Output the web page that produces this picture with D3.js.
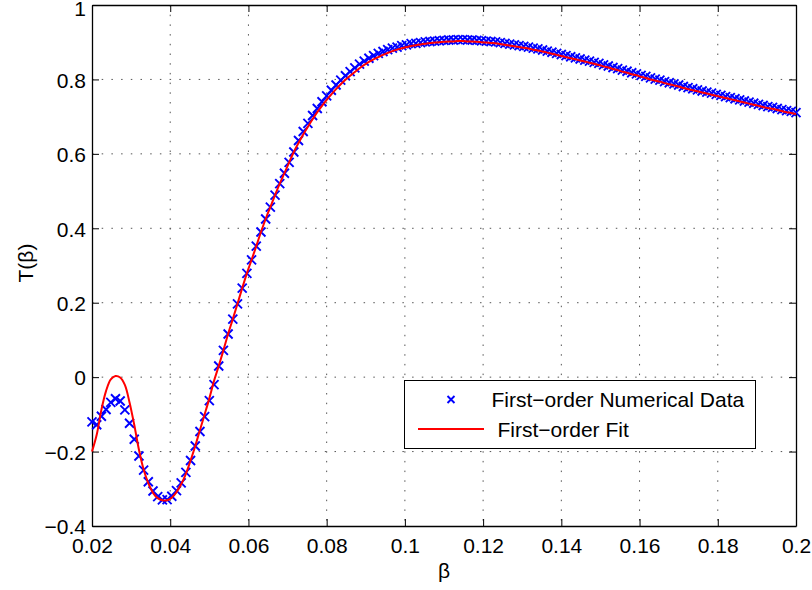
<!DOCTYPE html>
<html>
<head>
<meta charset="utf-8">
<script src="https://d3js.org/d3.v7.min.js"></script>
<style>
body { margin: 0; background: #fff; }
text { font-family: "Liberation Sans", Arial, Helvetica, sans-serif; fill: #000; }
</style>
</head>
<body>
<div id="chart"></div>
<script>
// sample grid (beta)
var betaVals = [0.0200,0.0212,0.0224,0.0236,0.0248,0.0260,0.0272,0.0284,0.0296,0.0308,
  0.0320,0.0332,0.0344,0.0356,0.0368,0.0380,0.0392,0.0404,0.0416,0.0428,
  0.0440,0.0452,0.0464,0.0476,0.0488,0.0500,0.0512,0.0524,0.0536,0.0548,
  0.0560,0.0572,0.0584,0.0596,0.0608,0.0620,0.0632,0.0644,0.0656,0.0668,
  0.0680,0.0692,0.0704,0.0716,0.0728,0.0740,0.0752,0.0764,0.0776,0.0788,
  0.0800,0.0812,0.0824,0.0836,0.0848,0.0860,0.0872,0.0884,0.0896,0.0908,
  0.0920,0.0932,0.0944,0.0956,0.0968,0.0980,0.0992,0.1004,0.1016,0.1028,
  0.1040,0.1052,0.1064,0.1076,0.1088,0.1100,0.1112,0.1124,0.1136,0.1148,
  0.1160,0.1172,0.1184,0.1196,0.1208,0.1220,0.1232,0.1244,0.1256,0.1268,
  0.1280,0.1292,0.1304,0.1316,0.1328,0.1340,0.1352,0.1364,0.1376,0.1388,
  0.1400,0.1412,0.1424,0.1436,0.1448,0.1460,0.1472,0.1484,0.1496,0.1508,
  0.1520,0.1532,0.1544,0.1556,0.1568,0.1580,0.1592,0.1604,0.1616,0.1628,
  0.1640,0.1652,0.1664,0.1676,0.1688,0.1700,0.1712,0.1724,0.1736,0.1748,
  0.1760,0.1772,0.1784,0.1796,0.1808,0.1820,0.1832,0.1844,0.1856,0.1868,
  0.1880,0.1892,0.1904,0.1916,0.1928,0.1940,0.1952,0.1964,0.1976,0.1988,
  0.2000];

// first-order numerical data (blue crosses)
var numT = [-0.120,-0.128,-0.105,-0.087,-0.068,-0.058,-0.064,-0.088,-0.124,-0.167,
  -0.212,-0.250,-0.281,-0.306,-0.321,-0.330,-0.329,-0.320,-0.305,-0.284,
  -0.256,-0.224,-0.185,-0.146,-0.106,-0.063,-0.020,0.030,0.072,0.116,
  0.156,0.197,0.239,0.279,0.315,0.352,0.390,0.425,0.457,0.489,
  0.520,0.548,0.577,0.605,0.636,0.660,0.682,0.703,0.722,0.740,
  0.756,0.771,0.785,0.798,0.810,0.821,0.831,0.841,0.849,0.857,
  0.864,0.870,0.875,0.880,0.884,0.887,0.891,0.893,0.896,0.897,
  0.899,0.901,0.902,0.903,0.904,0.905,0.906,0.906,0.907,0.907,
  0.906,0.906,0.905,0.904,0.903,0.902,0.901,0.899,0.897,0.895,
  0.893,0.891,0.889,0.887,0.884,0.882,0.879,0.876,0.873,0.870,
  0.867,0.864,0.861,0.858,0.855,0.852,0.849,0.846,0.843,0.839,
  0.836,0.832,0.829,0.825,0.822,0.818,0.815,0.811,0.808,0.804,
  0.801,0.798,0.794,0.791,0.788,0.785,0.781,0.778,0.775,0.772,
  0.769,0.766,0.763,0.760,0.757,0.754,0.751,0.748,0.745,0.742,
  0.739,0.736,0.733,0.730,0.727,0.725,0.722,0.719,0.716,0.714,
  0.711];

// first-order fit (red line)
var fitT = [-0.200,-0.155,-0.088,-0.037,-0.006,0.003,-0.001,-0.021,-0.068,-0.128,
  -0.195,-0.248,-0.285,-0.311,-0.325,-0.331,-0.331,-0.324,-0.309,-0.288,
  -0.260,-0.224,-0.185,-0.142,-0.100,-0.057,-0.010,0.030,0.072,0.116,
  0.156,0.197,0.239,0.279,0.315,0.352,0.390,0.425,0.457,0.489,
  0.520,0.548,0.577,0.605,0.629,0.652,0.673,0.693,0.712,0.729,
  0.745,0.760,0.774,0.787,0.799,0.810,0.820,0.830,0.839,0.847,
  0.854,0.860,0.866,0.871,0.876,0.880,0.884,0.887,0.890,0.892,
  0.894,0.896,0.898,0.899,0.900,0.901,0.902,0.902,0.903,0.903,
  0.902,0.902,0.901,0.900,0.899,0.898,0.897,0.895,0.893,0.891,
  0.889,0.887,0.885,0.883,0.880,0.878,0.875,0.872,0.869,0.866,
  0.863,0.860,0.857,0.854,0.851,0.848,0.845,0.842,0.839,0.835,
  0.832,0.828,0.825,0.821,0.818,0.814,0.811,0.807,0.804,0.800,
  0.797,0.794,0.790,0.787,0.784,0.781,0.777,0.774,0.771,0.768,
  0.765,0.762,0.759,0.756,0.753,0.750,0.747,0.744,0.741,0.738,
  0.735,0.732,0.729,0.726,0.723,0.721,0.718,0.715,0.712,0.710,
  0.707];

var xTicks = [0.02,0.04,0.06,0.08,0.1,0.12,0.14,0.16,0.18,0.2];
var xTickLabels = ["0.02","0.04","0.06","0.08","0.1","0.12","0.14","0.16","0.18","0.2"];
var yTicks = [-0.4,-0.2,0,0.2,0.4,0.6,0.8,1];
var yTickLabels = ["\u22120.4","\u22120.2","0","0.2","0.4","0.6","0.8","1"];
var legendLabels = ["First\u2212order Numerical Data", "First\u2212order Fit"];

var W = 812, H = 590;
var margin = {top: 5, right: 16, bottom: 64, left: 92};
var plotW = W - margin.left - margin.right,
    plotH = H - margin.top - margin.bottom;
var fs = 21;

var svg = d3.select('#chart').append('svg')
    .attr('width', W).attr('height', H);
var plt = svg.append('g')
    .attr('transform', 'translate(' + [margin.left, margin.top] + ')');

var x = d3.scaleLinear().domain([0.02, 0.2]).range([0, plotW]);
var y = d3.scaleLinear().domain([-0.4, 1]).range([plotH, 0]);

// dotted grid
plt.selectAll('.vgrid').data(xTicks.slice(1, -1))
  .enter().append('line').attr('class', 'vgrid')
    .attr('x1', function(d){ return x(d); }).attr('x2', function(d){ return x(d); })
    .attr('y1', 0).attr('y2', plotH)
    .attr('stroke', '#555').attr('stroke-width', 1).attr('stroke-dasharray', '1.5,8.2');
plt.selectAll('.hgrid').data(yTicks.slice(1, -1))
  .enter().append('line').attr('class', 'hgrid')
    .attr('y1', function(d){ return y(d); }).attr('y2', function(d){ return y(d); })
    .attr('x1', 0).attr('x2', plotW)
    .attr('stroke', '#555').attr('stroke-width', 1).attr('stroke-dasharray', '1.5,8.2');

// axes, ticks pointing inwards on all four sides
var xAxis = d3.axisBottom(x).tickValues(xTicks).tickSizeInner(-7).tickSizeOuter(0)
    .tickPadding(12).tickFormat(function(d, i){ return xTickLabels[i]; });
var yAxis = d3.axisLeft(y).tickValues(yTicks).tickSizeInner(-7).tickSizeOuter(0)
    .tickPadding(6).tickFormat(function(d, i){ return yTickLabels[i]; });
var xTop = d3.axisTop(x).tickValues(xTicks).tickSizeInner(-7).tickSizeOuter(0).tickFormat('');
var yRight = d3.axisRight(y).tickValues(yTicks).tickSizeInner(-7).tickSizeOuter(0).tickFormat('');

var gx = plt.append('g').attr('transform', 'translate(0,' + plotH + ')').call(xAxis);
var gy = plt.append('g').call(yAxis);
plt.append('g').call(xTop);
plt.append('g').attr('transform', 'translate(' + plotW + ',0)').call(yRight);

plt.selectAll('.domain').attr('stroke', '#000').attr('stroke-width', 1.3);
plt.selectAll('.tick line').attr('stroke', '#000').attr('stroke-width', 1);
plt.selectAll('.tick text').attr('font-size', fs).attr('font-family', null).attr('fill', '#000');
gy.selectAll('.tick text').attr('dy', function(d){ return d === 1 ? '0.5em' : '0.37em'; });

// numerical data crosses
var pts = betaVals.map(function(b, i){ return {b: b, t: numT[i]}; });
var r = 4.5;
plt.selectAll('.point').data(pts)
  .enter().append('path').attr('class', 'point')
    .attr('transform', function(d){ return 'translate(' + [x(d.b), y(d.t)] + ')'; })
    .attr('d', 'M' + (-r) + ',' + (-r) + 'L' + r + ',' + r + 'M' + (-r) + ',' + r + 'L' + r + ',' + (-r))
    .attr('stroke', '#0000ff').attr('stroke-width', 1.9).attr('fill', 'none');

// fit line
var fitPts = betaVals.map(function(b, i){ return {b: b, t: fitT[i]}; });
var line = d3.line().x(function(d){ return x(d.b); }).y(function(d){ return y(d.t); })
    .curve(d3.curveCatmullRom.alpha(0.5));
plt.append('path').datum(fitPts)
    .attr('d', line).attr('fill', 'none')
    .attr('stroke', '#ff0000').attr('stroke-width', 2);

// axis labels
svg.append('text').attr('x', margin.left + plotW / 2).attr('y', 578)
    .attr('text-anchor', 'middle').attr('font-size', fs).text('\u03b2');
svg.append('text').attr('transform', 'translate(33,263) rotate(-90)')
    .attr('text-anchor', 'middle').attr('font-size', fs).text('T(\u03b2)');

// legend
var lg = svg.append('g').attr('class', 'legend');
lg.append('rect').attr('x', 404.5).attr('y', 380.5).attr('width', 351).attr('height', 68)
    .attr('fill', '#fff').attr('stroke', '#000').attr('stroke-width', 1);
var lr = 3.5;
lg.append('path').attr('transform', 'translate(451,399.5)')
    .attr('d', 'M' + (-lr) + ',' + (-lr) + 'L' + lr + ',' + lr + 'M' + (-lr) + ',' + lr + 'L' + lr + ',' + (-lr))
    .attr('stroke', '#0000ff').attr('stroke-width', 1.9).attr('fill', 'none');
lg.append('text').attr('x', 491.5).attr('y', 406.7).attr('font-size', fs).text(legendLabels[0]);
lg.append('line').attr('x1', 418).attr('x2', 484).attr('y1', 429).attr('y2', 429)
    .attr('stroke', '#ff0000').attr('stroke-width', 2);
lg.append('text').attr('x', 497.5).attr('y', 436.7).attr('font-size', fs).text(legendLabels[1]);
</script>
</body>
</html>
